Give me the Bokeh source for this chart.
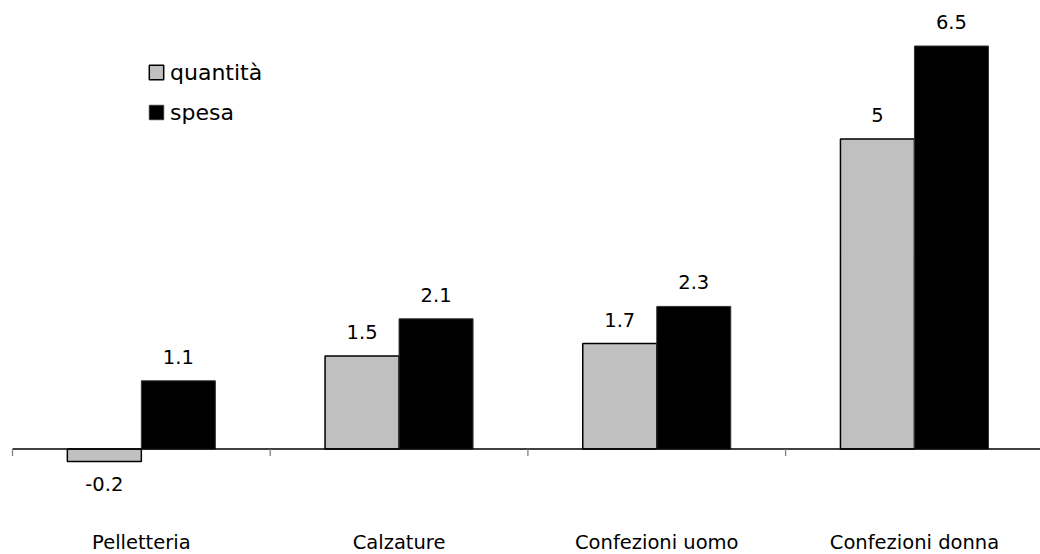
from bokeh.plotting import figure
from bokeh.models import ColumnDataSource, Legend, LegendItem, Range1d
from bokeh.embed import file_html
from bokeh.resources import INLINE
from bokeh.core.properties import value

categories = ["Pelletteria", "Calzature", "Confezioni uomo", "Confezioni donna"]
quantita = [-0.2, 1.5, 1.7, 5.0]
spesa = [1.1, 2.1, 2.3, 6.5]
quantita_labels = ["-0.2", "1.5", "1.7", "5"]
spesa_labels = ["1.1", "2.1", "2.3", "6.5"]

W, H = 1040, 554
PX_X = 257.7      # pixels per category
PX_Y = 62.0       # pixels per unit
X_LEFT_PX = 12.0  # category 0 boundary offset from canvas left
BASE_PX = 448.5   # baseline offset from canvas top

x0 = -X_LEFT_PX / PX_X
x1 = x0 + W / PX_X
y1 = BASE_PX / PX_Y
y0 = y1 - H / PX_Y

p = figure(width=W, height=H, output_backend="svg", toolbar_location=None,
           x_range=Range1d(x0, x1), y_range=Range1d(y0, y1),
           x_axis_type=None, y_axis_type=None, min_border=0)
p.outline_line_color = None
p.grid.visible = False
p.background_fill_color = "white"

bw = 74.0 / PX_X
centers = [i + 0.5 for i in range(len(categories))]

src_q = ColumnDataSource(dict(x=[c - bw / 2 for c in centers], top=quantita))
src_s = ColumnDataSource(dict(x=[c + bw / 2 for c in centers], top=spesa))

rq = p.vbar(x="x", top="top", bottom=0, width=bw, source=src_q,
            fill_color="#C0C0C0", line_color="black", line_width=1.5)
rs = p.vbar(x="x", top="top", bottom=0, width=bw, source=src_s,
            fill_color="black", line_color="#333333", line_width=1.0)

# baseline axis and ticks
p.segment(x0=[0], y0=[0], x1=[x1 + 1], y1=[0], line_color="black", line_width=1.3)
tick_len = 7.0 / PX_Y
p.segment(x0=[0, 1, 2, 3], y0=[0] * 4, x1=[0, 1, 2, 3], y1=[-tick_len] * 4,
          line_color="#808080", line_width=1.3)

FONT = value("DejaVu Sans")
FS = "19.5px"

def lab_y(v):
    if v >= 0:
        return v + 24.0 / PX_Y
    return v - 23.0 / PX_Y

lq = ColumnDataSource(dict(x=[c - bw / 2 for c in centers], y=[lab_y(v) for v in quantita], t=quantita_labels))
ls = ColumnDataSource(dict(x=[c + bw / 2 for c in centers], y=[lab_y(v) for v in spesa], t=spesa_labels))
for s in (lq, ls):
    p.text(x="x", y="y", text="t", source=s, text_align="center", text_baseline="alphabetic",
           text_font=FONT, text_font_size=FS, text_color="black")

cat_src = ColumnDataSource(dict(x=centers, y=[-93.0 / PX_Y] * 4, t=categories))
p.text(x="x", y="y", text="t", source=cat_src, text_align="center", text_baseline="alphabetic",
       text_font=FONT, text_font_size=FS, text_color="black")

legend = Legend(items=[LegendItem(label="quantità", renderers=[rq]),
                       LegendItem(label="spesa", renderers=[rs])],
                location=(147, H - 125), orientation="vertical",
                glyph_width=18, glyph_height=18, label_height=26,
                label_standoff=5, spacing=14, padding=0, margin=0,
                border_line_color=None, background_fill_alpha=0,
                label_text_font="DejaVu Sans", label_text_font_size="22px",
                label_text_color="black")
p.add_layout(legend)

open("out.html", "w").write(file_html(p, INLINE))
